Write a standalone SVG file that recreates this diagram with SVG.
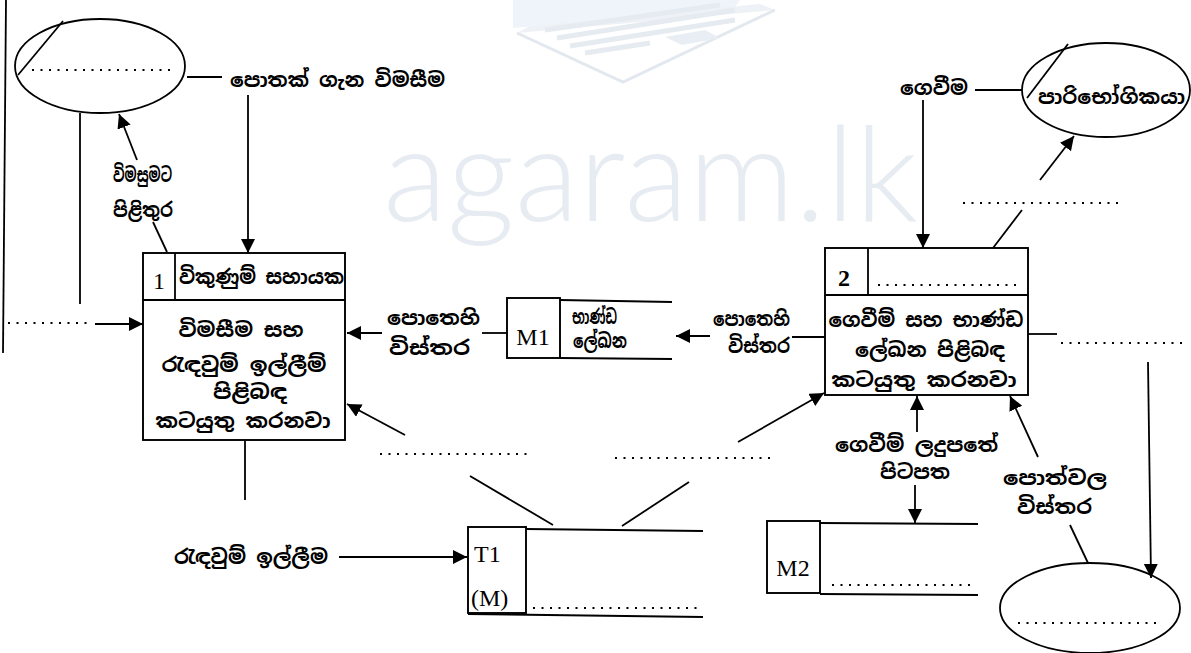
<svg xmlns="http://www.w3.org/2000/svg" width="1191" height="653" viewBox="0 0 1191 653">
<style>
.ln{stroke:#000;stroke-width:1.8;fill:none}
.dt{stroke:#000;stroke-width:2.2;fill:none;stroke-dasharray:2 6.5}
.bx{stroke:#000;stroke-width:1.9;fill:#fff}
.si{font-family:"Noto Sans Sinhala","Noto Sans","DejaVu Sans",sans-serif;font-size:20px;font-weight:bold;fill:#000}
.la{font-family:"Liberation Serif",serif;font-size:24px;fill:#000}
.wm{font-family:Lato,"Open Sans",sans-serif;font-weight:300;font-size:132px;fill:#e7ecf2}
</style>
<defs>
<marker id="ah" markerUnits="userSpaceOnUse" markerWidth="15" markerHeight="15" refX="14" refY="7" orient="auto">
<path d="M0,0 L14,7 L0,14 z" fill="#000"/>
</marker>
</defs>
<rect width="1191" height="653" fill="#fff"/>
<g id="watermark">
<polygon points="513,0 740,0 733,10 513,28" fill="#eef4fa"/>
<polygon points="517,33 775,10 760,4 530,26" fill="#eef2f6"/>
<path d="M517,33 L623,82 L775,10" stroke="#e3e8ee" stroke-width="3" fill="none"/>
<g stroke="#e6ebf1" stroke-width="5">
<line x1="545" y1="30" x2="720" y2="5"/>
<line x1="557" y1="38" x2="735" y2="10"/>
<line x1="570" y1="46" x2="735" y2="20"/>
<line x1="585" y1="53" x2="650" y2="43"/>
</g>
<polygon points="665,37 705,30 720,38 682,45" fill="#e9eef4"/>
<text class="wm" x="383" y="221" textLength="535" lengthAdjust="spacingAndGlyphs">agaram.lk</text>
</g>
<g id="border-line"><line class="ln" x1="6" y1="0" x2="3" y2="353"/></g>
<g id="entity-left">
<ellipse class="ln" cx="100" cy="66" rx="85" ry="47"/>
<line class="ln" x1="18" y1="75" x2="63" y2="21"/>
<line class="dt" x1="32" y1="70" x2="174" y2="70"/>
</g>
<g id="entity-customer">
<ellipse class="ln" cx="1106" cy="90" rx="84" ry="47"/>
<line class="ln" x1="1027" y1="98" x2="1068" y2="44"/>
<text class="si" x="1038" y="104" textLength="147" lengthAdjust="spacingAndGlyphs">පාරිභෝගිකයා</text>
</g>
<g id="entity-bottom">
<ellipse class="ln" cx="1090" cy="608" rx="90" ry="45"/>
<line class="dt" x1="1018" y1="623" x2="1162" y2="623"/>
</g>
<g id="process-1">
<rect class="bx" x="143" y="253" width="202" height="187"/>
<line class="ln" x1="143" y1="300" x2="345" y2="300"/>
<line class="ln" x1="175" y1="253" x2="175" y2="300"/>
<text class="la" x="153" y="289">1</text>
<text class="si" x="179" y="284" textLength="165" lengthAdjust="spacingAndGlyphs">විකුණුම් සහායක</text>
<text class="si" x="241" y="337" text-anchor="middle" textLength="125" lengthAdjust="spacingAndGlyphs">විමසීම සහ</text>
<text class="si" x="244" y="372" text-anchor="middle" textLength="165" lengthAdjust="spacingAndGlyphs">රැඳවුම් ඉල්ලීම්</text>
<text class="si" x="250" y="399" text-anchor="middle" textLength="74" lengthAdjust="spacingAndGlyphs">පිළිබඳ</text>
<text class="si" x="243" y="428" text-anchor="middle" textLength="175" lengthAdjust="spacingAndGlyphs">කටයුතු කරනවා</text>
</g>
<g id="process-2">
<rect class="bx" x="825" y="248" width="203" height="147"/>
<line class="ln" x1="825" y1="295" x2="1028" y2="295"/>
<line class="ln" x1="868" y1="248" x2="868" y2="295"/>
<text class="la" x="838" y="286" font-weight="bold">2</text>
<line class="dt" x1="878" y1="285" x2="1020" y2="285"/>
<text class="si" x="926" y="327" text-anchor="middle" textLength="195" lengthAdjust="spacingAndGlyphs">ගෙවීම් සහ භාණ්ඩ</text>
<text class="si" x="930" y="357" text-anchor="middle" textLength="150" lengthAdjust="spacingAndGlyphs">ලේඛන පිළිබඳ</text>
<text class="si" x="924" y="387" text-anchor="middle" textLength="185" lengthAdjust="spacingAndGlyphs">කටයුතු කරනවා</text>
</g>
<g id="store-M1">
<rect class="bx" x="507" y="298" width="53" height="60"/>
<line class="ln" x1="560" y1="300" x2="672" y2="302"/>
<line class="ln" x1="560" y1="358" x2="672" y2="359"/>
<text class="la" x="533" y="345" text-anchor="middle">M1</text>
<text class="si" x="572" y="324" font-size="17" textLength="45" lengthAdjust="spacingAndGlyphs">භාණ්ඩ</text>
<text class="si" x="573" y="348" font-size="17" textLength="54" lengthAdjust="spacingAndGlyphs">ලේඛන</text>
</g>
<g id="store-T1">
<rect class="bx" x="468" y="527" width="58" height="86"/>
<line class="ln" x1="526" y1="529" x2="703" y2="531"/>
<line class="ln" x1="468" y1="614" x2="703" y2="617"/>
<text class="la" x="474" y="562">T1</text>
<text class="la" x="471" y="606">(M)</text>
<line class="dt" x1="533" y1="608" x2="697" y2="608"/>
</g>
<g id="store-M2">
<rect class="bx" x="767" y="521" width="53" height="72"/>
<line class="ln" x1="820" y1="523" x2="978" y2="524"/>
<line class="ln" x1="820" y1="594" x2="978" y2="595"/>
<text class="la" x="793" y="576" text-anchor="middle">M2</text>
<line class="dt" x1="832" y1="585" x2="975" y2="585"/>
</g>
<g id="connectors">
<line class="ln" x1="187" y1="77" x2="222" y2="77"/>
<text class="si" x="230" y="87" textLength="215" lengthAdjust="spacingAndGlyphs">පොතක් ගැන විමසීම</text>
<line class="ln" x1="248" y1="95" x2="248" y2="253" marker-end="url(#ah)"/>
<line class="ln" x1="80" y1="113" x2="80" y2="304"/>
<line class="ln" x1="167" y1="252" x2="153" y2="222"/>
<line class="ln" x1="137" y1="160" x2="119" y2="114" marker-end="url(#ah)"/>
<text class="si" x="113" y="182" textLength="59" lengthAdjust="spacingAndGlyphs">විමසුමට</text>
<text class="si" x="113" y="217" textLength="60" lengthAdjust="spacingAndGlyphs">පිළිතුර</text>
<line class="dt" x1="8" y1="323" x2="88" y2="323"/>
<line class="ln" x1="95" y1="324" x2="143" y2="324" marker-end="url(#ah)"/>
<line class="ln" x1="507" y1="333" x2="482" y2="333"/>
<line class="ln" x1="382" y1="333" x2="347" y2="333" marker-end="url(#ah)"/>
<text class="si" x="387" y="325" textLength="93" lengthAdjust="spacingAndGlyphs">පොතෙහි</text>
<text class="si" x="389" y="355" textLength="81" lengthAdjust="spacingAndGlyphs">විස්තර</text>
<line class="ln" x1="825" y1="337" x2="792" y2="337"/>
<line class="ln" x1="710" y1="336" x2="676" y2="336" marker-end="url(#ah)"/>
<text class="si" x="713" y="326" font-size="18" textLength="77" lengthAdjust="spacingAndGlyphs">පොතෙහි</text>
<text class="si" x="728" y="353" font-size="18" textLength="62" lengthAdjust="spacingAndGlyphs">විස්තර</text>
<line class="ln" x1="405" y1="435" x2="347" y2="404" marker-end="url(#ah)"/>
<line class="dt" x1="380" y1="454" x2="533" y2="454"/>
<line class="dt" x1="615" y1="458" x2="770" y2="458"/>
<line class="ln" x1="738" y1="442" x2="824" y2="393" marker-end="url(#ah)"/>
<line class="ln" x1="470" y1="476" x2="553" y2="525"/>
<line class="ln" x1="622" y1="526" x2="689" y2="482"/>
<line class="ln" x1="245" y1="441" x2="245" y2="500"/>
<text class="si" x="174" y="564" textLength="154" lengthAdjust="spacingAndGlyphs">රැඳවුම් ඉල්ලීම</text>
<line class="ln" x1="339" y1="557" x2="467" y2="557" marker-end="url(#ah)"/>
<text class="si" x="900" y="95" textLength="68" lengthAdjust="spacingAndGlyphs">ගෙවීම</text>
<line class="ln" x1="975" y1="90" x2="1022" y2="90"/>
<line class="ln" x1="923" y1="100" x2="923" y2="248" marker-end="url(#ah)"/>
<line class="ln" x1="1040" y1="180" x2="1074" y2="136" marker-end="url(#ah)"/>
<line class="dt" x1="963" y1="203" x2="1118" y2="203"/>
<line class="ln" x1="1022" y1="210" x2="993" y2="248"/>
<line class="ln" x1="1028" y1="334" x2="1057" y2="334"/>
<line class="dt" x1="1061" y1="343" x2="1188" y2="343"/>
<line class="ln" x1="1148" y1="362" x2="1151" y2="578" marker-end="url(#ah)"/>
<text class="si" x="835" y="452" textLength="163" lengthAdjust="spacingAndGlyphs">ගෙවීම් ලදුපතේ</text>
<text class="si" x="880" y="479" textLength="70" lengthAdjust="spacingAndGlyphs">පිටපත</text>
<line class="ln" x1="917" y1="432" x2="917" y2="396" marker-end="url(#ah)"/>
<line class="ln" x1="915" y1="485" x2="915" y2="523" marker-end="url(#ah)"/>
<line class="ln" x1="1038" y1="457" x2="1010" y2="396" marker-end="url(#ah)"/>
<text class="si" x="1003" y="485" textLength="104" lengthAdjust="spacingAndGlyphs">පොත්වල</text>
<text class="si" x="1017" y="514" textLength="75" lengthAdjust="spacingAndGlyphs">විස්තර</text>
<line class="ln" x1="1070" y1="525" x2="1088" y2="563"/>
</g>
</svg>
